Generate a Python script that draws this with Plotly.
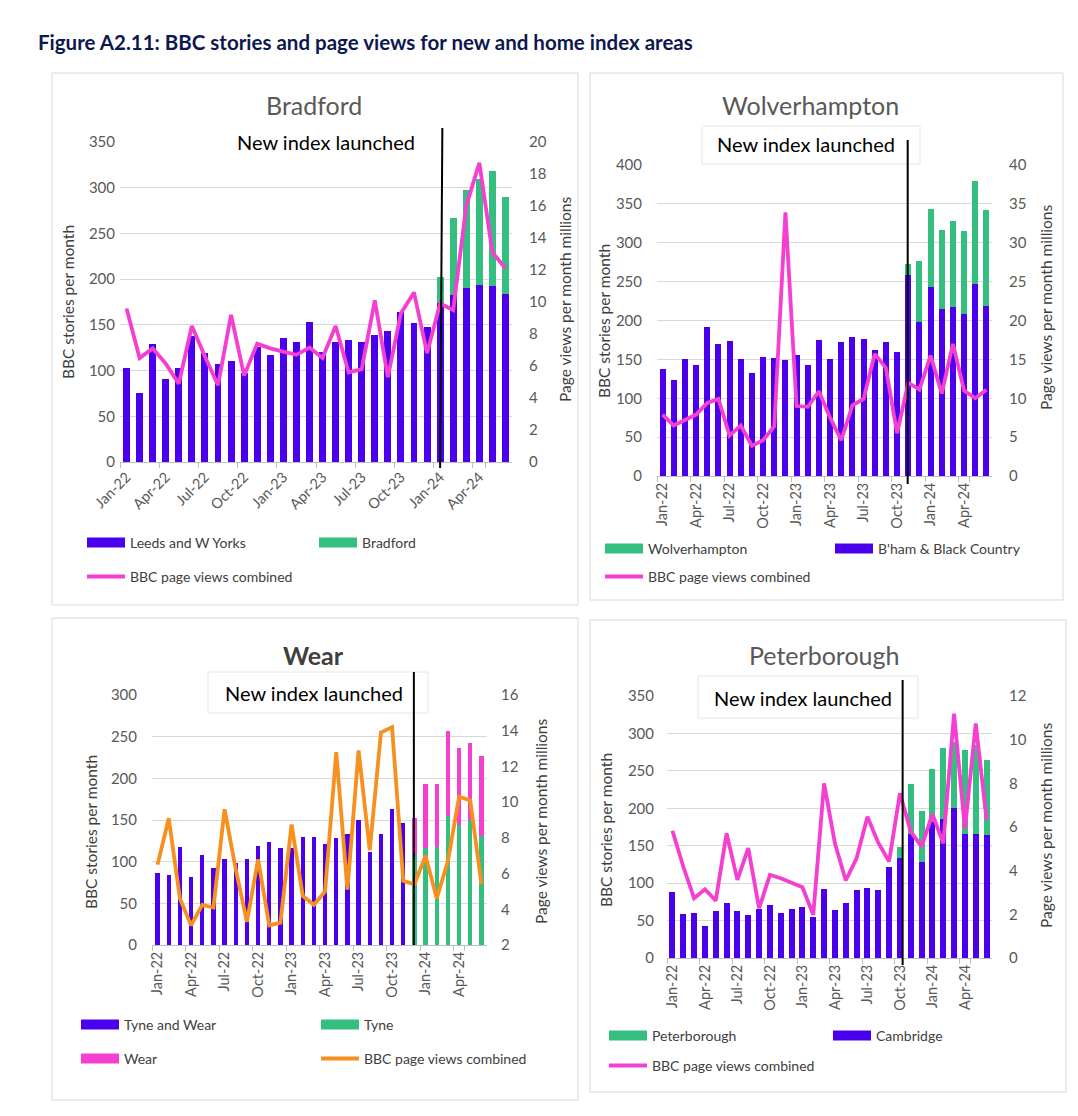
import plotly.graph_objects as go

# ---------------- data ----------------
months = ["Jan-22", "Feb-22", "Mar-22", "Apr-22", "May-22", "Jun-22", "Jul-22", "Aug-22", "Sep-22", "Oct-22",
          "Nov-22", "Dec-22", "Jan-23", "Feb-23", "Mar-23", "Apr-23", "May-23", "Jun-23", "Jul-23", "Aug-23",
          "Sep-23", "Oct-23", "Nov-23", "Dec-23", "Jan-24", "Feb-24", "Mar-24", "Apr-24", "May-24", "Jun-24"]
tick_months = ["Jan-22", "Apr-22", "Jul-22", "Oct-22", "Jan-23", "Apr-23", "Jul-23", "Oct-23", "Jan-24", "Apr-24"]

# Bradford
leeds_w_yorks = [103, 76, 129, 91, 103, 138, 119, 107, 110, 97, 126, 117, 136, 131, 153, 120, 131, 133, 131, 139,
                 143, 164, 152, 148, 174, 183, 190, 194, 193, 184]
bradford = [None] * 24 + [28, 84, 108, 116, 125, 106]
bradford_views = [9.6, 6.5, 7.1, 6.15, 4.9, 8.5, 6.6, 4.8, 9.2, 5.4, 7.4, 7.1, 6.9, 6.7, 7.15, 6.5, 8.5, 5.6, 5.8, 10.1,
                  5.3, 9.3, 10.6, 6.8, 9.9, 9.5, 16.0, 18.7, 13.1, 12.1]

# Wolverhampton
bham_black_country = [137, 123, 151, 143, 192, 170, 173, 150, 132, 153, 152, 149, 156, 143, 175, 151, 172, 179, 176,
                      162, 172, 159, 259, 198, 243, 215, 217, 209, 247, 219]
wolverhampton = [None] * 22 + [14, 79, 100, 102, 111, 106, 132, 123]
wolverhampton_views = [7.9, 6.5, 7.2, 7.9, 9.4, 9.9, 5.2, 6.5, 3.9, 4.6, 6.4, 33.9, 9.0, 8.9, 10.9, 7.5, 4.6, 9.1,
                       9.9, 15.7, 13.9, 5.5, 12.0, 11.1, 15.5, 10.6, 17.0, 11.0, 10.0, 11.1]

# Wear
tyne_and_wear = [86, 84, 118, 82, 108, 92, 103, 99, 103, 119, 124, 117, 117, 130, 130, 121, 128, 133, 150, 112,
                 133, 163, 146] + [None] * 7
tyne = [None] * 23 + [108, 116, 118, 155, 144, 150, 131]
wear = [None] * 23 + [45, 77, 75, 102, 93, 92, 96]
wear_views = [6.5, 9.1, 4.6, 3.1, 4.25, 4.1, 9.6, 6.25, 3.3, 6.8, 3.1, 3.25, 8.75, 4.75, 4.25, 5.0, 12.8, 5.1,
              12.9, 7.3, 13.9, 14.2, 5.6, 5.4, 7.0, 4.6, 6.7, 10.3, 10.1, 5.4]

# Peterborough
cambridge = [88, 59, 60, 43, 63, 74, 63, 58, 66, 71, 60, 66, 68, 55, 92, 64, 74, 91, 94, 91, 122, 134, 166, 128,
             182, 186, 200, 166, 166, 164]
peterborough = [None] * 21 + [14, 66, 69, 71, 95, 88, 112, 119, 100]
peterborough_views = [5.83, 4.19, 2.74, 3.15, 2.63, 5.71, 3.58, 5.03, 2.28, 3.81, 3.65, 3.46, 3.24, 1.98, 8.0, 5.25,
                      3.55, 4.57, 6.47, 5.28, 4.42, 7.54, 5.79, 5.10, 6.59, 5.25, 11.19, 5.9, 10.74, 6.32]

# ---------------- style ----------------
W, H = 1078, 1116
OFF = 8  # page body margin
BLUE = "#4A00EC"
GREEN = "#34BF80"
PINK = "#F43FD0"
ORANGE = "#F7901E"
GRID = "#D9D9D9"
AXIS = "#BFBFBF"
TXT = "#595959"
FONT = "Lato"


def px(x):
    return (x - OFF) / W


def py(y):
    return 1 - (y - OFF) / H


fig = go.Figure()


def bar(y, color, xa, ya, w):
    fig.add_trace(go.Bar(x=months, y=y, width=w, marker=dict(color=color, line=dict(width=0)),
                         xaxis=xa, yaxis=ya, showlegend=False, hoverinfo="x+y"))


def line(y, color, xa, ya):
    fig.add_trace(go.Scatter(x=months, y=y, mode="lines", line=dict(color=color, width=3.8),
                             xaxis=xa, yaxis=ya, showlegend=False))


def legend_item(name, color, legend, is_bar):
    fig.add_trace(go.Scatter(x=[None], y=[None], mode="lines", name=name,
                             line=dict(color=color, width=10 if is_bar else 4),
                             legend=legend, showlegend=True, xaxis="x", yaxis="y"))


# Bradford
bar(leeds_w_yorks, BLUE, "x", "y", 0.53)
bar(bradford, GREEN, "x", "y", 0.53)
line(bradford_views, PINK, "x", "y2")
# Wolverhampton
bar(bham_black_country, BLUE, "x2", "y3", 0.55)
bar(wolverhampton, GREEN, "x2", "y3", 0.55)
line(wolverhampton_views, PINK, "x2", "y4")
# Wear
bar(tyne_and_wear, BLUE, "x3", "y5", 0.4)
bar(tyne, GREEN, "x3", "y5", 0.4)
bar(wear, PINK, "x3", "y5", 0.4)
line(wear_views, ORANGE, "x3", "y6")
# Peterborough
bar(cambridge, BLUE, "x4", "y7", 0.56)
bar(peterborough, GREEN, "x4", "y7", 0.56)
line(peterborough_views, PINK, "x4", "y8")

# legend entries
legend_item("Leeds and W Yorks", BLUE, "legend", True)
legend_item("Bradford", GREEN, "legend", True)
legend_item("BBC page views combined", PINK, "legend2", False)
legend_item("Wolverhampton", GREEN, "legend3", True)
legend_item("B'ham & Black Country", BLUE, "legend3", True)
legend_item("BBC page views combined", PINK, "legend4", False)
legend_item("Tyne and Wear", BLUE, "legend5", True)
legend_item("Tyne", GREEN, "legend5", True)
legend_item("Wear", PINK, "legend6", True)
legend_item("BBC page views combined", ORANGE, "legend6", False)
legend_item("Peterborough", GREEN, "legend7", True)
legend_item("Cambridge", BLUE, "legend7", True)
legend_item("BBC page views combined", PINK, "legend8", False)


def xaxis(x0, x1, anchor, angle):
    return dict(domain=[px(x0), px(x1)], anchor=anchor, type="category", automargin=False,
                categoryorder="array", categoryarray=months,
                tickmode="array", tickvals=tick_months, ticktext=tick_months,
                tickson="boundaries", ticks="outside", ticklen=5, tickcolor=AXIS,
                showline=True, linecolor=AXIS, linewidth=1, showgrid=False,
                tickangle=angle, tickfont=dict(family=FONT, size=14.5, color=TXT),
                range=[-0.5, 29.5])


def yleft(y_top, y_bot, anchor, rng, dtick, standoff):
    return dict(domain=[py(y_bot), py(y_top)], anchor=anchor, range=rng, dtick=dtick, automargin=False,
                showgrid=True, gridcolor=GRID, gridwidth=1, zeroline=False, showline=False,
                ticks="", tickfont=dict(family=FONT, size=15, color=TXT), ticklabelstandoff=standoff)


def yright(overlay, anchor, rng, dtick, standoff):
    return dict(overlaying=overlay, anchor=anchor, side="right", range=rng, dtick=dtick, automargin=False,
                showgrid=False, zeroline=False, showline=False, ticks="",
                tickfont=dict(family=FONT, size=15, color=TXT), ticklabelstandoff=standoff)


layout = dict(
    width=W, height=H, margin=dict(l=0, r=0, t=0, b=0, pad=0, autoexpand=False),
    paper_bgcolor="white", plot_bgcolor="rgba(0,0,0,0)",
    barmode="stack", font=dict(family=FONT, color=TXT),
    xaxis=xaxis(120, 512, "y", -45),
    yaxis=yleft(142, 462, "x", [0, 350], 50, 4),
    yaxis2=yright("y", "x", [0, 20], 2, 16),
    xaxis2=xaxis(657, 992, "y3", -90),
    yaxis3=yleft(165, 476, "x2", [0, 400], 50, 14),
    yaxis4=yright("y3", "x2", [0, 40], 5, 16),
    xaxis3=xaxis(152, 487, "y5", -90),
    yaxis5=yleft(695, 945, "x3", [0, 300], 50, 14),
    yaxis6=yright("y5", "x3", [2, 16], 2, 13),
    xaxis4=xaxis(667, 992, "y7", -90),
    yaxis7=yleft(696, 958, "x4", [0, 350], 50, 12),
    yaxis8=yright("y7", "x4", [0, 12], 2, 16),
)


def leg(x, y, ew):
    return dict(x=px(x), y=py(y), xanchor="left", yanchor="middle", orientation="h", traceorder="normal",
                entrywidth=ew, entrywidthmode="pixels", bgcolor="rgba(0,0,0,0)",
                font=dict(family=FONT, size=14, color="#404040"), itemwidth=38, tracegroupgap=0)


layout["legend"] = leg(82, 543, 179)
layout["legend2"] = leg(82, 577, 179)
layout["legend3"] = leg(600, 549, 177)
layout["legend4"] = leg(600, 577, 177)
layout["legend5"] = leg(76, 1025, 187)
layout["legend6"] = leg(76, 1059, 187)
layout["legend7"] = leg(604, 1036, 171)
layout["legend8"] = leg(604, 1066, 171)
fig.update_layout(**layout)

shapes = []
# panel frames
for (x0, y0, x1, y1) in [(52, 73, 578, 605), (590, 73, 1063, 600), (52, 618, 578, 1100), (590, 620, 1066, 1092)]:
    shapes.append(dict(type="rect", xref="paper", yref="paper", x0=px(x0), x1=px(x1), y0=py(y1), y1=py(y0),
                       line=dict(color="#D9D9D9", width=1), fillcolor="rgba(0,0,0,0)", layer="below"))
# "New index launched" boxes
for (x0, y0, x1, y1, lc) in [(220, 127, 441, 156, "white"), (702, 126, 920, 164, "#E6E6E6"),
                             (208, 672, 428, 713, "#E6E6E6"), (698, 676, 918, 718, "#E6E6E6")]:
    shapes.append(dict(type="rect", xref="paper", yref="paper", x0=px(x0), x1=px(x1), y0=py(y1), y1=py(y0),
                       line=dict(color=lc, width=1), fillcolor="white", layer="above"))
# launch lines
for (xr, xb, xt, yb, yt) in [("x", 24.0, 24.17, 468, 128), ("x2", 21.95, 21.95, 484, 140),
                             ("x3", 22.95, 22.95, 945, 672), ("x4", 21.25, 21.25, 965, 680)]:
    shapes.append(dict(type="line", xref=xr, yref="paper", x0=xb, x1=xt, y0=py(yb), y1=py(yt),
                       line=dict(color="black", width=2), layer="above"))
fig.update_layout(shapes=shapes)

ann = []


def text(x, y, s, size, color, angle=0, bold=False, xanchor="center"):
    ann.append(dict(x=px(x), y=py(y), xref="paper", yref="paper", text=("<b>%s</b>" % s) if bold else s,
                    showarrow=False, textangle=angle, xanchor=xanchor, yanchor="middle",
                    font=dict(family=FONT, size=size, color=color)))


text(36, 42, "Figure A2.11: BBC stories and page views for new and home index areas", 20.5, "#0E1850",
     bold=True, xanchor="left")
text(314, 105, "Bradford", 25, TXT)
text(810, 105, "Wolverhampton", 25, TXT)
text(313, 655, "Wear", 25, "#404040", bold=True)
text(824, 655, "Peterborough", 25, TXT)
for (x, y) in [(326, 142), (806, 144), (314, 693), (803, 698)]:
    text(x, y, "New index launched", 20, "black")
for (x, y) in [(68, 302), (604, 321), (91, 832), (606, 830)]:
    text(x, y, "BBC stories per month", 15.5, "#404040", angle=-90)
for (x, y) in [(565, 300), (1046, 308), (541, 822), (1046, 826)]:
    text(x, y, "Page views per month millions", 15.5, "#404040", angle=-90)
fig.update_layout(annotations=ann)

fig.write_html("out.html")
